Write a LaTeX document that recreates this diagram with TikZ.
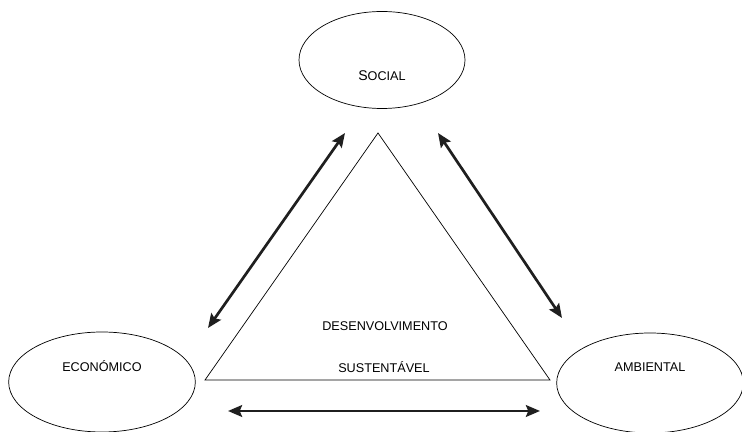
\documentclass[tikz,border=0pt]{standalone}
\usepackage{fontspec}
\setmainfont{Liberation Sans}
\usetikzlibrary{shapes.geometric,arrows.meta}

\begin{document}
\begin{tikzpicture}[x=0.03cm,y=-0.03cm,font=\fontsize{10.8}{13}\selectfont]

        \useasboundingbox (0,0) rectangle (742,432);
        \clip (0,0) rectangle (742,432);

        \begin{scope}[every node/.style={ellipse,draw,line width=0.6pt,inner sep=0pt}]
          \node[minimum width=4.98cm,minimum height=2.91cm] (social)    at (382,60)  {\raisebox{-0.62cm}[0pt][0pt]{{\large S}OCIAL}};
          \node[minimum width=5.6cm,minimum height=3.0cm]   (economico) at (102,382) {\raisebox{0.3cm}[0pt][0pt]{ECONÓMICO}};
          \node[minimum width=5.6cm,minimum height=3.0cm]   (ambiental) at (650,383) {\raisebox{0.33cm}[0pt][0pt]{AMBIENTAL}};
        \end{scope}

        \coordinate (topo)  at (378,133);
        \coordinate (base1) at (205,380);
        \coordinate (base2) at (550,380);
        \draw[line width=0.6pt] (topo) -- (base1) -- (base2) -- cycle;

        \node (desenv) at (385,326) {DESENVOLVIMENTO};
        \node (sust)   at (384,367) {SUSTENTÁVEL};

        \coordinate (a1) at (345,133);
        \coordinate (a2) at (208,328);
        \coordinate (b1) at (438,133);
        \coordinate (b2) at (562,318);
        \coordinate (c1) at (228,411);
        \coordinate (c2) at (540,411);

        \begin{scope}[every edge/.style={draw,black!88,line width=2.3pt,{Stealth[length=12pt,width=10pt,inset=2pt]}-{Stealth[length=12pt,width=10pt,inset=2pt]}}]
          \path (a1) edge (a2);
          \path (b1) edge (b2);
          \path (c1) edge (c2);
        \end{scope}

      \end{tikzpicture}
\end{document}
